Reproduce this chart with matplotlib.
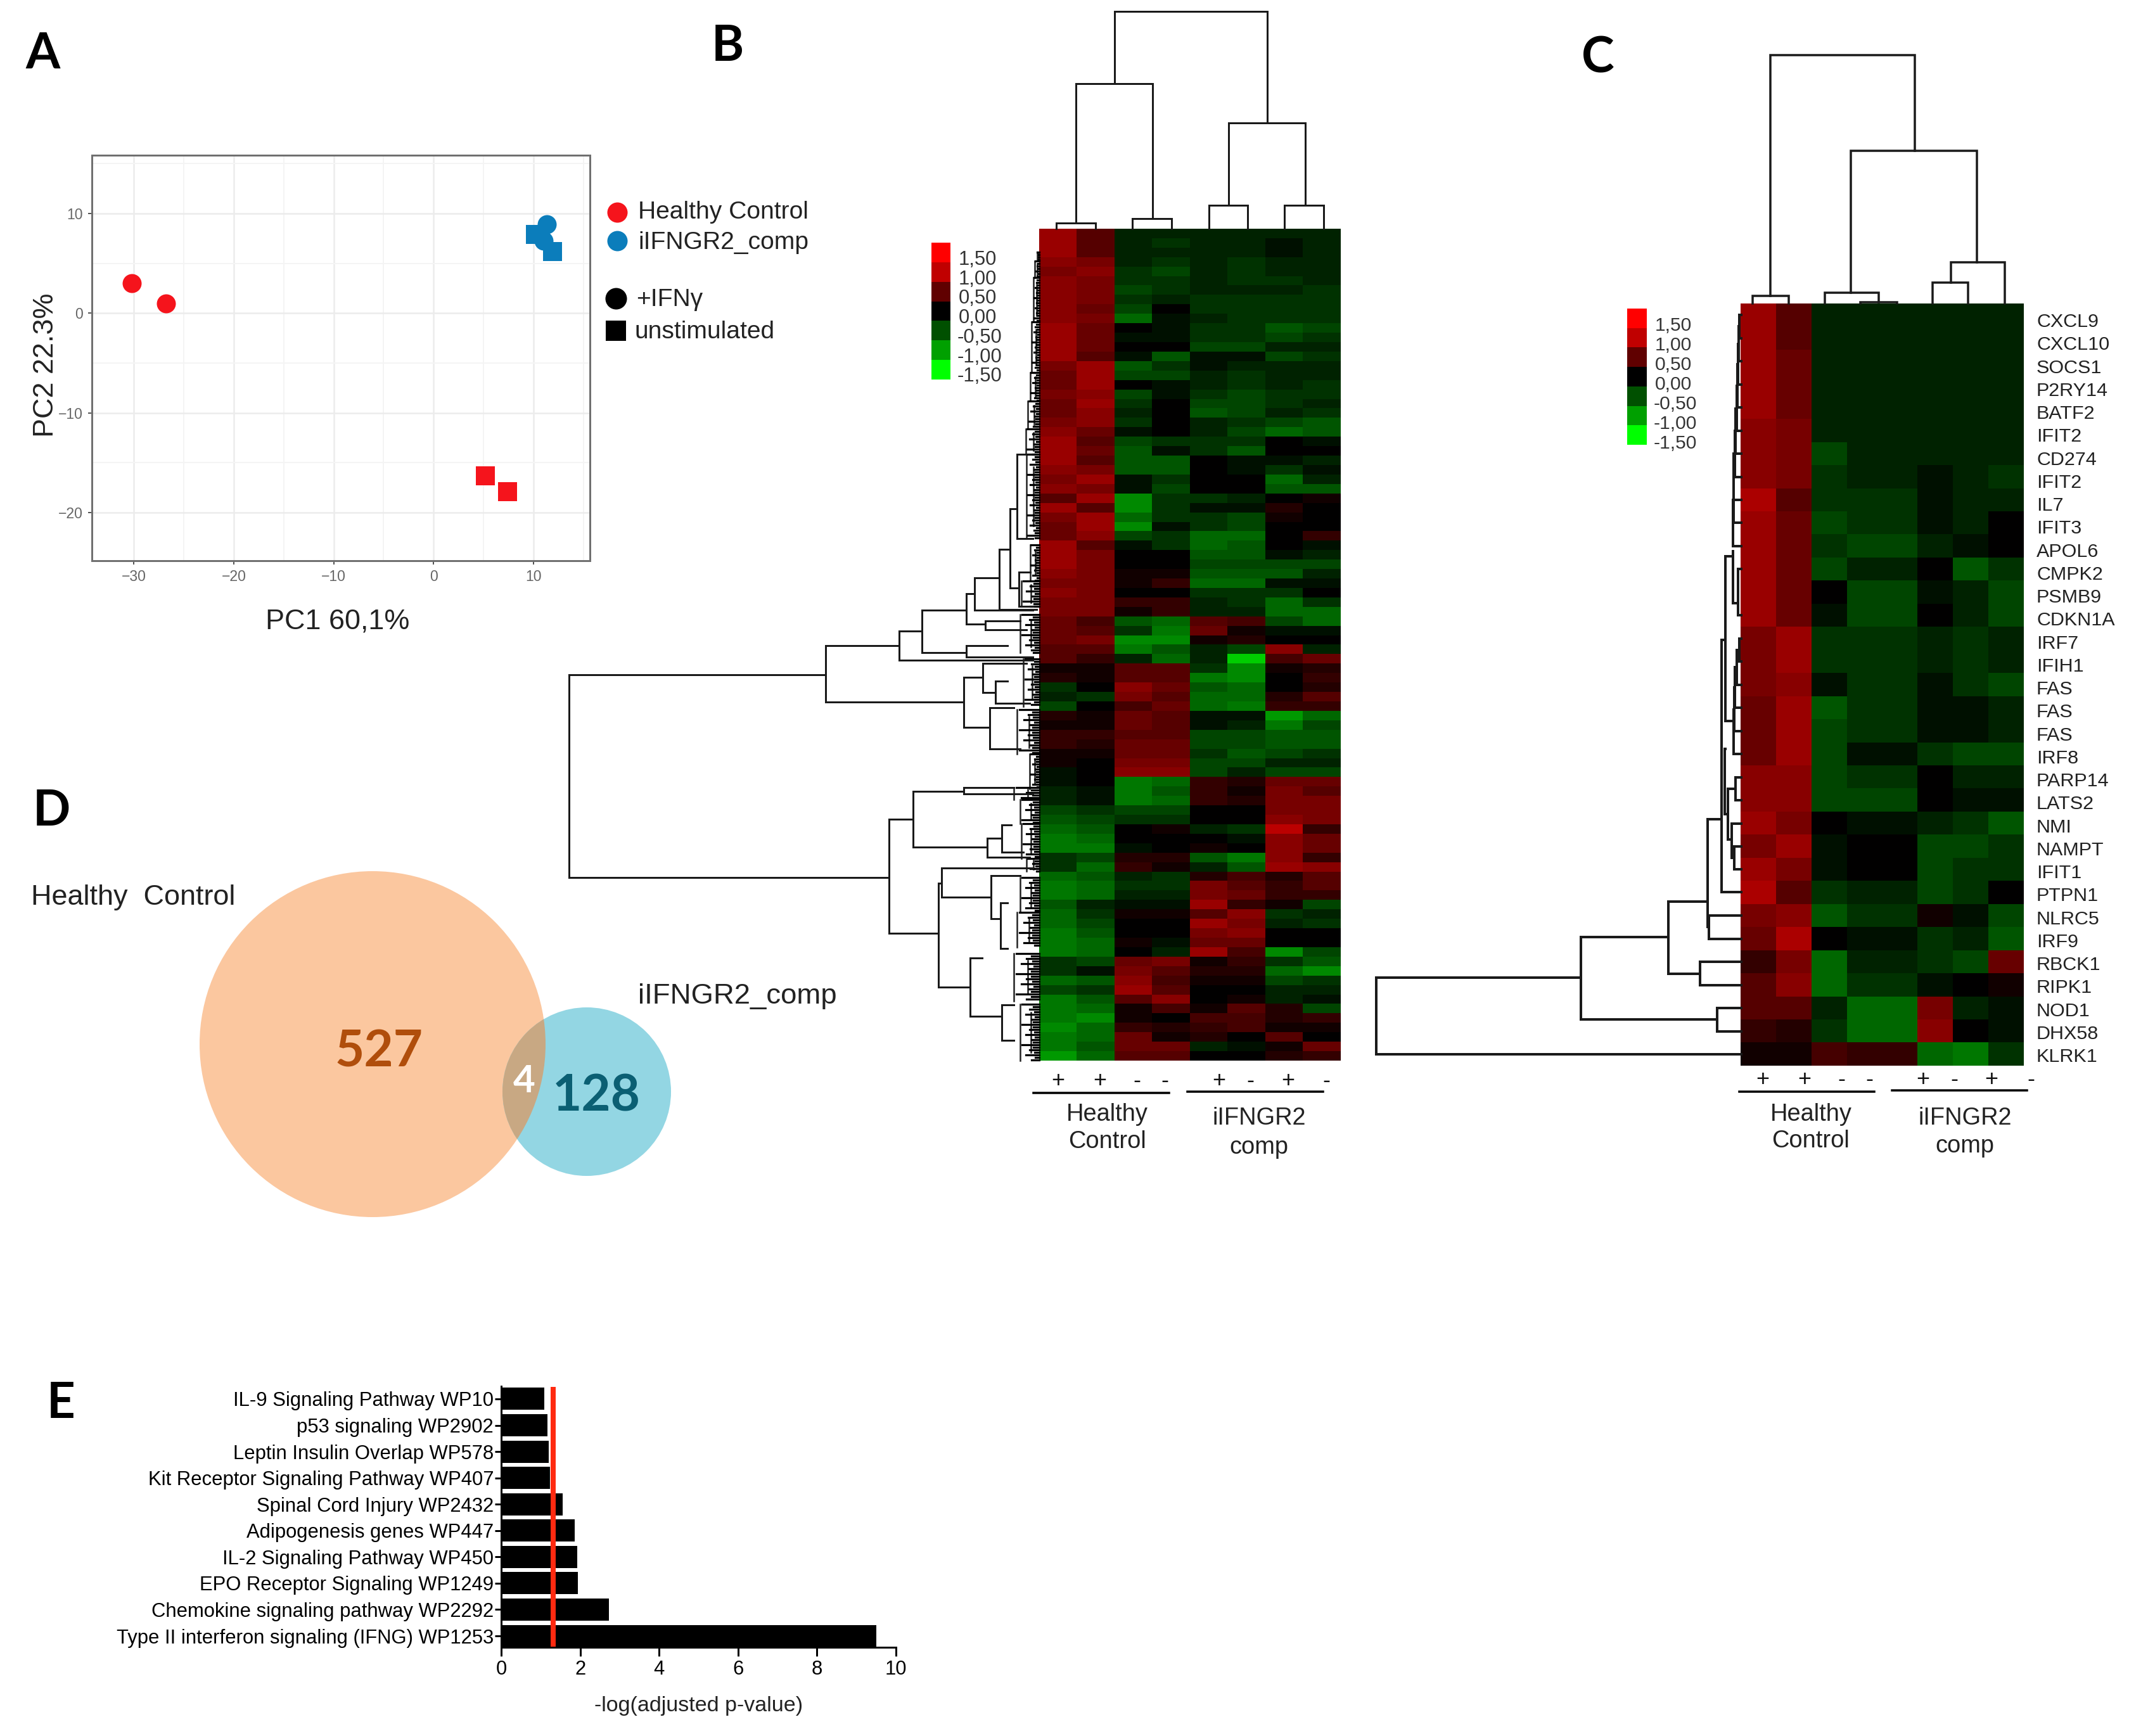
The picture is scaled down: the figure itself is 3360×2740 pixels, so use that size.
#!/usr/bin/env python3
"""Five panel figure: PCA, two clustered heatmaps, Venn diagram, pathway bars."""

from __future__ import annotations

import matplotlib

matplotlib.use("Agg")
import matplotlib.pyplot as plt
from matplotlib.colors import LinearSegmentedColormap, ListedColormap
from matplotlib.patches import Circle

W, H = 3360, 2740
DPI = 100
FONT = "Liberation Sans"
LETTER_FONT = "Lato"

# panel A
PCA_HC_STIM = ([-30.2, -26.8], [3.0, 1.0])
PCA_HC_UNSTIM = ([5.2, 7.4], [-16.3, -17.9])
PCA_COMP_STIM = ([11.3, 11.0], [8.9, 7.3])
PCA_COMP_UNSTIM = ([10.2, 11.9], [7.9, 6.2])
RED = "#F5141C"
BLUE = "#0B7DBB"

# panel B, z-score x 10, one row per band of the heatmap
HEAT_B = [
    [9, 5, -2, -2, -2, -2, -2, -2], [9, 5, -2, -3, -2, -2, -1, -2], [9, 5, -2, -2, -2, -2, -1, -2],
    [8, 7, -2, -3, -2, -3, -2, -2], [7, 8, -3, -4, -2, -3, -2, -2], [8, 7, -3, -3, -2, -3, -3, -2],
    [8, 7, -4, -3, -2, -2, -2, -3], [8, 7, -3, -2, -3, -3, -3, -3], [8, 6, -4, 0, -3, -3, -3, -3],
    [8, 7, -6, -1, -2, -3, -3, -3], [9, 6, 0, -1, -3, -3, -5, -4], [9, 6, -1, -1, -3, -3, -4, -3],
    [9, 6, 0, 0, -4, -4, -2, -2], [9, 5, -1, -5, -1, -1, -4, -3], [7, 9, -5, -3, -1, -2, -2, -2],
    [6, 9, -4, -4, -2, -3, -2, -2], [6, 9, 0, -1, -2, -3, -2, -3], [7, 8, -4, -1, -3, -4, -3, -3],
    [6, 9, -3, 0, -4, -4, -3, -2], [6, 8, -2, 0, -5, -4, -2, -3], [7, 8, -3, 0, -2, -3, -4, -5],
    [8, 6, -1, 0, -2, -4, -6, -5], [9, 5, -4, -3, -3, -3, 0, -1], [9, 6, -5, -1, -3, -5, 0, 0],
    [9, 5, -5, -5, 0, -1, -1, -2], [8, 7, -5, -5, 0, -1, -3, -1], [7, 9, -1, -3, 0, 0, -6, -2],
    [8, 7, -1, -4, 0, 0, -5, -5], [5, 9, -8, -3, -3, -2, 0, 1], [9, 5, -8, -3, -1, -1, 2, 0],
    [7, 9, -6, -3, -3, -4, 1, 0], [6, 9, -8, -1, -3, -4, 0, 0], [6, 8, -4, -3, -6, -6, 0, 3],
    [9, 5, -1, -3, -6, -5, 0, -1], [9, 7, 0, 0, -5, -5, -1, -2], [9, 7, 0, 0, -4, -4, -4, -4],
    [8, 7, 1, 1, -5, -5, -5, -2], [7, 7, 1, 3, -6, -6, -1, -1], [8, 7, 0, 0, -3, -3, -3, 0],
    [7, 7, 3, 3, -2, -3, -6, -3], [7, 7, 1, 3, -2, -2, -6, -6], [6, 4, -5, -6, 5, 4, -4, -6],
    [6, 5, -3, -7, 6, 1, -1, -1], [6, 7, -8, -8, 1, 2, 0, 0], [5, 5, -7, -5, -2, -4, 8, -2],
    [5, 3, -2, -6, -2, -12, 4, 6], [1, 1, 5, 5, -3, -8, 1, 2], [2, 1, 5, 5, -7, -8, 0, 3],
    [-3, 0, 8, 6, -5, -6, 0, 2], [-2, -3, 7, 5, -6, -6, 2, 5], [-4, 0, 4, 6, -6, -7, 3, 3],
    [2, 1, 6, 5, -1, -1, -9, -6], [1, 1, 6, 5, -1, -2, -7, -4], [3, 3, 5, 5, -4, -4, -5, -5],
    [3, 2, 6, 6, -4, -4, -5, -5], [1, 1, 6, 6, -3, -5, -4, -3], [1, 0, 7, 7, -4, -4, -2, -2],
    [-1, 0, 8, 8, -4, -2, -4, -4], [-1, 0, -7, -6, 3, 2, 6, 6], [-2, -1, -7, -5, 3, 1, 7, 5],
    [-2, -1, -7, -6, 3, 2, 7, 7], [-4, -3, -4, -4, 0, 0, 7, 7], [-5, -4, -3, -3, 0, 0, 8, 7],
    [-6, -5, 0, 1, -2, -3, 11, 3], [-7, -6, 0, 0, 0, -1, 8, 6], [-7, -7, -1, 0, 1, 0, 8, 6],
    [-3, -4, 2, 2, -5, -7, 8, 3], [-3, -6, 3, 1, -2, -5, 9, 8], [-6, -5, -2, -3, 2, 4, 2, 5],
    [-7, -6, -3, -3, 7, 5, 3, 5], [-7, -6, -2, -2, 7, 6, 3, 3], [-5, -2, -1, -1, 9, 3, 1, -4],
    [-6, -3, 1, 1, 5, 8, -3, -2], [-6, -4, 0, 0, 9, 7, -2, -3], [-7, -5, 0, 0, 7, 8, 0, 0],
    [-7, -6, 1, -1, 6, 6, 0, 0], [-7, -6, 0, -2, 9, 4, -8, -4], [-3, -4, 6, 7, 1, 3, -3, -5],
    [-3, -1, 7, 5, 2, 2, -6, -8], [-6, -5, 8, 4, 1, 1, -4, -3], [-4, -3, 9, 5, 0, 0, -2, -2],
    [-7, -5, 5, 8, 0, 1, -2, -1], [-7, -6, 1, 4, 1, 5, 2, -4], [-7, -8, 1, 0, 4, 4, 2, 3],
    [-8, -6, 3, 2, 3, 4, 1, 1], [-7, -6, 6, 1, 2, 0, 5, 0], [-7, -5, 6, 6, -2, -1, 1, 6],
    [-9, -6, 5, 5, 0, 0, 2, 3],
]

# panel C
GENES = [
    "CXCL9", "CXCL10", "SOCS1", "P2RY14", "BATF2", "IFIT2", "CD274", "IFIT2", "IL7", "IFIT3", "APOL6",
    "CMPK2", "PSMB9", "CDKN1A", "IRF7", "IFIH1", "FAS", "FAS", "FAS", "IRF8", "PARP14", "LATS2", "NMI",
    "NAMPT", "IFIT1", "PTPN1", "NLRC5", "IRF9", "RBCK1", "RIPK1", "NOD1", "DHX58", "KLRK1",
]
HEAT_C = [
    [9, 5, -2, -2, -2, -2, -2, -2], [9, 5, -2, -2, -2, -2, -2, -2], [9, 6, -2, -2, -2, -2, -2, -2],
    [9, 6, -2, -2, -2, -2, -2, -2], [9, 6, -2, -2, -2, -2, -2, -2], [8, 7, -2, -2, -2, -2, -2, -2],
    [8, 7, -4, -2, -2, -2, -2, -2], [8, 7, -3, -2, -2, -1, -2, -3], [10, 5, -3, -3, -3, -1, -2, -2],
    [9, 6, -4, -3, -3, -1, -2, 0], [9, 6, -3, -4, -4, -2, -1, 0], [9, 6, -4, -2, -2, 0, -5, -3],
    [9, 6, 0, -4, -4, -1, -2, -4], [9, 6, -1, -4, -4, 0, -2, -4], [7, 9, -3, -3, -3, -2, -3, -2],
    [7, 9, -3, -3, -3, -2, -3, -2], [7, 8, -1, -3, -3, -1, -3, -4], [6, 9, -5, -3, -3, -1, -1, -2],
    [6, 9, -4, -3, -3, -1, -1, -2], [6, 9, -4, -1, -1, -3, -4, -4], [8, 8, -4, -3, -3, 0, -2, -2],
    [8, 8, -4, -4, -4, 0, -1, -1], [9, 7, 0, -1, -1, -2, -3, -5], [7, 9, -1, 0, 0, -4, -4, -3],
    [9, 7, -1, 0, 0, -4, -3, -3], [10, 5, -3, -2, -2, -4, -3, 0], [7, 8, -5, -3, -3, 1, -1, -4],
    [6, 10, 0, -1, -1, -3, -2, -5], [3, 7, -6, -2, -2, -3, -4, 6], [5, 8, -6, -3, -3, -1, 0, 1],
    [5, 5, -2, -6, -6, 7, -2, -1], [3, 2, -3, -6, -6, 8, 0, -1], [1, 1, 4, 3, 3, -6, -7, -3],
]
LEGEND_LEVELS = ["1,50", "1,00", "0,50", "0,00", "-0,50", "-1,00", "-1,50"]
LEGEND_COLORS = ["#FF0000", "#C00000", "#600000", "#000000", "#005000", "#00A000", "#00FF00"]

# dendrograms, (level, first child pos, second child pos, first child level, second child level)
TOP_B = [
    (352, 1667, 1729, 361, 361), (345, 1787, 1849, 361, 361), (324, 1908, 1969, 361, 361),
    (324, 2027, 2089, 361, 361), (132, 1698, 1819, 352, 345), (194, 1939, 2060, 324, 324),
    (18, 1759, 2000, 132, 194),
]
TOP_C = [
    (467, 2766, 2823, 479, 479), (462, 2880, 2965, 479, 477), (477, 2936, 2994, 479, 479),
    (446, 3050, 3106, 479, 479), (414, 3079, 3164, 446, 479), (238, 2921, 3120, 462, 414),
    (87, 2794, 3022, 467, 238),
]
LEFT_B = [
    (898, 1065, 1385, 1303, 1403), (1303, 1019, 1108, 1419, 1521), (1419, 996, 1042, 1455, 1630),
    (1455, 963, 1030, 1525, 1525), (1525, 937, 985, 1538, 1555), (1538, 912, 963, 1577, 1630),
    (1577, 867, 962, 1594, 1636), (1594, 803, 928, 1605, 1608), (1605, 717, 850, 1619, 1630),
    (1608, 903, 957, 1626, 1630), (1555, 980, 994, 1610, 1620), (1525, 1019, 1037, 1590, 1630),
    (1521, 1069, 1148, 1551, 1562), (1551, 1047, 1093, 1620, 1571), (1571, 1075, 1110, 1590, 1625),
    (1562, 1117, 1182, 1600, 1610), (1403, 1293, 1473, 1441, 1481), (1441, 1249, 1337, 1521, 1558),
    (1521, 1243, 1253, 1600, 1630), (1558, 1323, 1353, 1581, 1625), (1581, 1302, 1345, 1596, 1615),
    (1481, 1394, 1558, 1486, 1531), (1486, 1370, 1416, 1630, 1564), (1564, 1382, 1450, 1610, 1579),
    (1579, 1425, 1497, 1590, 1590), (1531, 1512, 1604, 1550, 1581), (1581, 1586, 1642, 1600, 1600),
]
# (root pos, first row, last row) of the dense twig groups next to the heatmap
TWIGS_B = [
    (1637, 398, 412), (1633, 412, 438), (1631, 438, 508), (1628, 508, 588), (1626, 588, 633),
    (1622, 633, 677), (1619, 677, 717), (1620, 717, 850), (1626, 860, 917), (1612, 917, 957),
    (1610, 970, 1030), (1615, 1040, 1115), (1605, 1120, 1190), (1625, 1190, 1245), (1600, 1243, 1262),
    (1610, 1262, 1300), (1612, 1300, 1355), (1620, 1355, 1375), (1610, 1385, 1440), (1605, 1440, 1495),
    (1600, 1505, 1580), (1610, 1585, 1674),
]
LEFT_C = [
    (2745, 497, 534, 2748, 2748), (2744, 515, 570, 2745, 2748), (2743, 543, 607, 2744, 2748),
    (2742, 575, 643, 2743, 2748), (2741, 609, 680, 2742, 2748), (2739, 645, 716, 2741, 2748),
    (2738, 680, 753, 2739, 2748), (2736, 716, 789, 2738, 2748), (2736, 752, 825, 2736, 2748),
    (2735, 789, 862, 2736, 2748), (2743, 898, 971, 2748, 2748), (2735, 870, 952, 2735, 2743),
    (2745, 1008, 1044, 2748, 2748), (2741, 1026, 1081, 2745, 2748), (2738, 1053, 1117, 2741, 2748),
    (2737, 1085, 1154, 2738, 2748), (2736, 1120, 1190, 2737, 2748), (2723, 878, 1138, 2735, 2736),
    (2739, 1227, 1263, 2748, 2748), (2737, 1336, 1372, 2748, 2748), (2733, 1300, 1354, 2748, 2737),
    (2727, 1245, 1325, 2739, 2733), (2717, 1010, 1408, 2723, 2748), (2722, 1182, 1285, 2723, 2727),
    (2697, 1445, 1482, 2748, 2748), (2695, 1293, 1463, 2717, 2697), (2683, 1518, 1555, 2748, 2748),
    (2633, 1423, 1537, 2695, 2683), (2710, 1591, 1628, 2748, 2748), (2495, 1479, 1609, 2633, 2710),
    (2172, 1543, 1664, 2495, 2748),
]

# panel D
VENN_LEFT = 527
VENN_RIGHT = 128
VENN_BOTH = 4

# panel E
PATHWAYS = [
    "Type II interferon signaling (IFNG) WP1253", "Chemokine signaling pathway WP2292",
    "EPO Receptor Signaling WP1249", "IL-2 Signaling Pathway WP450", "Adipogenesis genes WP447",
    "Spinal Cord Injury WP2432", "Kit Receptor Signaling Pathway WP407", "Leptin Insulin Overlap WP578",
    "p53 signaling WP2902", "IL-9 Signaling Pathway WP10",
]
LOG_P = [9.5, 2.73, 1.95, 1.92, 1.86, 1.55, 1.23, 1.2, 1.17, 1.09]
CUTOFF = 1.31


def pt(px: float) -> float:
    return px * 72.0 / DPI


def px_axes(fig, x0: float, y0: float, x1: float, y1: float):
    return fig.add_axes([x0 / W, 1 - y1 / H, (x1 - x0) / W, (y1 - y0) / H])


def draw_pca(fig) -> None:
    ax = px_axes(fig, 145, 245, 931, 885)
    ax.set_xlim(-34.2, 15.64)
    ax.set_ylim(-24.83, 15.85)
    ax.set_xticks([-30, -20, -10, 0, 10])
    ax.set_yticks([-20, -10, 0, 10])
    ax.set_xticks([-25, -15, -5, 5, 15], minor=True)
    ax.set_yticks([-15, -5, 5, 15], minor=True)
    ax.grid(which="major", color="#ECECEC", lw=pt(2.5))
    ax.grid(which="minor", color="#F4F4F4", lw=pt(2))
    ax.set_axisbelow(True)
    ax.tick_params(which="major", labelsize=pt(23), labelcolor="#666666", color="#555555", length=pt(6), width=pt(2), pad=pt(8))
    ax.tick_params(which="minor", length=0)
    for spine in ax.spines.values():
        spine.set_color("#707070")
        spine.set_linewidth(pt(3))
    size = pt(30) ** 2
    ax.scatter(*PCA_HC_STIM, s=size, c=RED, marker="o", lw=0)
    ax.scatter(*PCA_HC_UNSTIM, s=size, c=RED, marker="s", lw=0)
    ax.scatter(*PCA_COMP_UNSTIM, s=size, c=BLUE, marker="s", lw=0)
    ax.scatter(*PCA_COMP_STIM, s=size, c=BLUE, marker="o", lw=0)
    for tick in ax.get_xticklabels() + ax.get_yticklabels():
        tick.set_fontfamily(FONT)


def draw_heat(fig, box, rows, cmap) -> None:
    ax = px_axes(fig, *box)
    ax.imshow([[v / 10 for v in row] for row in rows], cmap=cmap, vmin=-1.5, vmax=1.5, aspect="auto", interpolation="nearest")
    ax.axis("off")


def draw_legend_bar(fig, box) -> None:
    ax = px_axes(fig, *box)
    ax.imshow([[i] for i in range(len(LEGEND_COLORS))], cmap=ListedColormap(LEGEND_COLORS), aspect="auto", interpolation="nearest")
    ax.axis("off")


def draw_bars(fig) -> None:
    ax = px_axes(fig, 791, 2188, 1414, 2600)
    pos = list(range(len(PATHWAYS)))
    ax.barh(pos, LOG_P, height=0.84, color="black")
    ax.plot([CUTOFF, CUTOFF], [-0.43, 9.45], color="#FF2A10", lw=pt(8), solid_capstyle="butt")
    ax.set_xlim(0, 10)
    ax.set_ylim(-0.433, 9.48)
    ax.set_yticks(pos, PATHWAYS, fontfamily=FONT, fontsize=pt(31))
    ax.set_xticks(range(0, 11, 2))
    ax.tick_params(axis="x", labelsize=pt(31), length=pt(14), width=pt(3), pad=pt(6))
    ax.tick_params(axis="y", length=pt(10), width=pt(3), pad=pt(2))
    for tick in ax.get_xticklabels():
        tick.set_fontfamily(FONT)
    ax.spines["top"].set_visible(False)
    ax.spines["right"].set_visible(False)
    ax.spines["left"].set_linewidth(pt(3))
    ax.spines["bottom"].set_linewidth(pt(3))


def top_tree(ax, links, lw) -> None:
    for level, a, b, la, lb in links:
        ax.plot([a, a, b, b], [la, level, level, lb], color="#1A1A1A", lw=lw, solid_joinstyle="miter")


def left_tree(ax, links, lw) -> None:
    for level, a, b, la, lb in links:
        ax.plot([la, level, level, lb], [a, a, b, b], color="#1A1A1A", lw=lw, solid_joinstyle="miter")


def twigs(ax, groups, edge) -> None:
    pattern = (0.9, 0.3, 0.5, 0.25, 0.7, 0.2, 0.4, 0.3)
    for root, first, last in groups:
        ax.plot([root, root], [first, last], color="#222222", lw=pt(2.5))
        mid = root + (edge - root) * 0.55
        ax.plot([mid, mid], [first + (last - first) * 0.15, last - (last - first) * 0.15], color="#222222", lw=pt(2.5))
        y = first
        i = 0
        while y <= last:
            start = edge - (edge - root) * pattern[i % len(pattern)]
            ax.plot([start, edge], [y, y], color="black", lw=pt(3.2))
            y += 4
            i += 1


def label(ax, x, y, text, size, ha="left", **kw) -> None:
    kw.setdefault("family", FONT)
    ax.text(x, y, text, fontsize=pt(size), ha=ha, va="center", **kw)


def draw_overlay(fig) -> None:
    ax = fig.add_axes([0, 0, 1, 1])
    ax.set_xlim(0, W)
    ax.set_ylim(H, 0)
    ax.axis("off")
    ax.patch.set_alpha(0)

    # panel letters
    for x, y, letter in [(68, 86, "A"), (1148, 74, "B"), (2522, 92, "C"), (81, 1281, "D"), (96, 2216, "E")]:
        label(ax, x, y, letter, 78, ha="center", family=LETTER_FONT, fontweight="bold", color="black")

    # panel A annotation
    label(ax, 533, 981, "PC1 60,1%", 45, ha="center", color="#222222")
    label(ax, 72, 576, "PC2 22.3%", 45, ha="center", rotation=90, color="#222222")
    ax.scatter([974], [335], s=pt(32) ** 2, c=RED, lw=0)
    ax.scatter([974], [380], s=pt(32) ** 2, c=BLUE, lw=0)
    ax.scatter([972], [471], s=pt(34) ** 2, c="black", lw=0)
    ax.scatter([972], [522], s=pt(32) ** 2, c="black", marker="s", lw=0)
    label(ax, 1007, 335, "Healthy Control", 39, color="#222222")
    label(ax, 1007, 383, "iIFNGR2_comp", 39, color="#222222")
    label(ax, 1004, 473, "+IFNγ", 39, color="#222222")
    label(ax, 1002, 524, "unstimulated", 39, color="#222222")

    # panel B trees and annotation
    top_tree(ax, TOP_B, pt(3))
    twigs(ax, TWIGS_B, 1640)
    left_tree(ax, LEFT_B, pt(3))
    for i, text in enumerate(LEGEND_LEVELS):
        label(ax, 1513 if i < 4 else 1511, 410 + 30.7 * i, text, 31, color="#333333")
    for x, sign in zip([1670, 1736, 1794, 1838, 1924, 1973, 2033, 2093], "++--+-+-"):
        label(ax, x, 1706, sign, 36, ha="center", color="#111111")
    ax.plot([1631, 1845], [1725, 1725], color="black", lw=pt(3.5))
    ax.plot([1874, 2088], [1723, 1723], color="black", lw=pt(3.5))
    label(ax, 1747, 1759, "Healthy", 38, ha="center", color="#222222")
    label(ax, 1747, 1802, "Control", 38, ha="center", color="#222222")
    label(ax, 1987, 1765, "iIFNGR2", 38, ha="center", color="#222222")
    label(ax, 1987, 1811, "comp", 38, ha="center", color="#222222")

    # panel C trees and annotation
    top_tree(ax, TOP_C, pt(3.5))
    left_tree(ax, LEFT_C, pt(4))
    for i, text in enumerate(LEGEND_LEVELS):
        label(ax, 2612 if i < 4 else 2610, 514 + 31 * i, text, 30, color="#333333")
    for i, gene in enumerate(GENES):
        label(ax, 3214, 508 + 36.25 * i, gene, 30.5, color="#222222")
    for x, sign in zip([2782, 2848, 2906, 2950, 3035, 3084, 3143, 3205], "++--+-+-"):
        label(ax, x, 1704, sign, 36, ha="center", color="#111111")
    ax.plot([2745, 2958], [1723, 1723], color="black", lw=pt(3.5))
    ax.plot([2986, 3199], [1721, 1721], color="black", lw=pt(3.5))
    label(ax, 2858, 1759, "Healthy", 38, ha="center", color="#222222")
    label(ax, 2858, 1801, "Control", 38, ha="center", color="#222222")
    label(ax, 3101, 1765, "iIFNGR2", 38, ha="center", color="#222222")
    label(ax, 3101, 1809, "comp", 38, ha="center", color="#222222")

    # panel D
    big = Circle((588, 1648), 273, fc="#FBC79F", ec="none")
    small = Circle((926, 1723), 133, fc="#93D6E3", ec="none")
    both = Circle((926, 1723), 133, fc="#C8A883", ec="none")
    ax.add_patch(big)
    ax.add_patch(small)
    ax.add_patch(both)
    both.set_clip_path(big)
    label(ax, 49, 1416, "Healthy  Control", 45, color="#222222")
    label(ax, 1007, 1572, "iIFNGR2_comp", 45.5, color="#222222")
    label(ax, 598, 1660, str(VENN_LEFT), 80, ha="center", family=LETTER_FONT, fontweight="bold", color="#B04E0C")
    label(ax, 941, 1730, str(VENN_RIGHT), 80, ha="center", family=LETTER_FONT, fontweight="bold", color="#0B5F73")
    label(ax, 827, 1707, str(VENN_BOTH), 60, ha="center", family=LETTER_FONT, fontweight="bold", color="white")

    # panel E
    label(ax, 1103, 2692, "-log(adjusted p-value)", 34, ha="center", color="#222222")


def main() -> None:
    fig = plt.figure(figsize=(W / DPI, H / DPI), dpi=DPI, facecolor="white")
    cmap = LinearSegmentedColormap.from_list("gbr", ["#00FF00", "#000000", "#FF0000"])
    draw_pca(fig)
    draw_heat(fig, (1640, 361, 2116, 1674), HEAT_B, cmap)
    draw_heat(fig, (2747, 479, 3194, 1682), HEAT_C, cmap)
    draw_legend_bar(fig, (1470, 383, 1500, 599))
    draw_legend_bar(fig, (2568, 487, 2599, 702))
    draw_bars(fig)
    draw_overlay(fig)
    fig.savefig("out.png", dpi=DPI)
    plt.close(fig)


if __name__ == "__main__":
    main()
